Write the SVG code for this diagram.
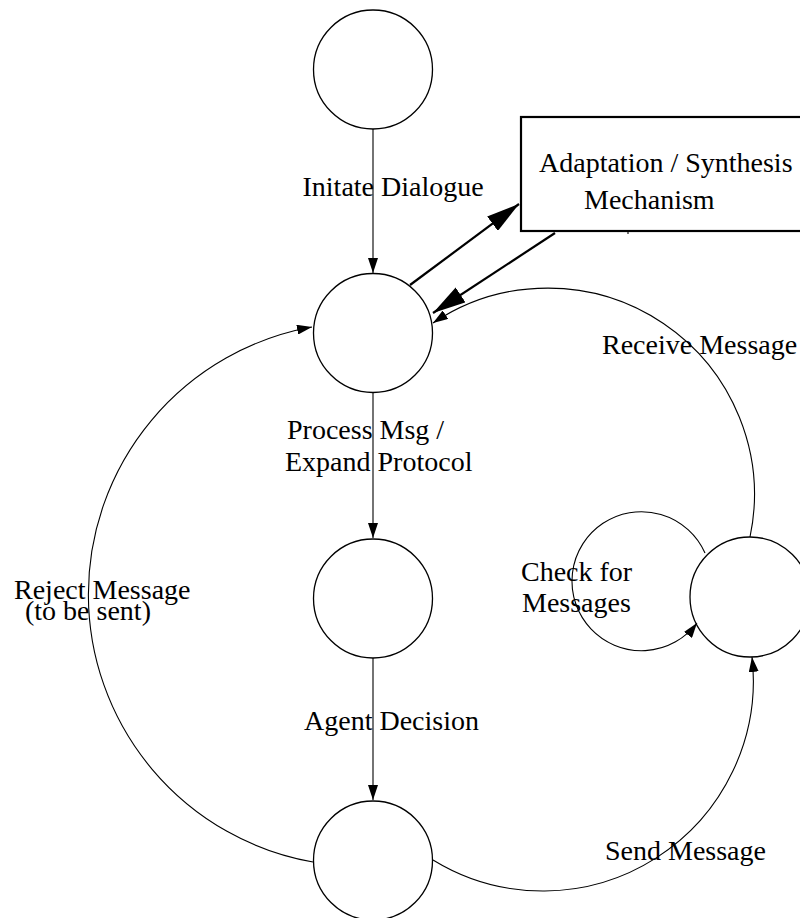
<svg xmlns="http://www.w3.org/2000/svg" width="800" height="918" viewBox="0 0 800 918">
  <style>
    .state { fill: #ffffff; stroke: #000000; stroke-width: 1.3; }
    .edge { fill: none; stroke: #000000; stroke-width: 1.1; }
    .bold { fill: none; stroke: #000000; stroke-width: 2.2; }
    .box { fill: #ffffff; stroke: #000000; stroke-width: 2.2; }
    text { font-family: "Liberation Serif", "Times New Roman", serif; font-size: 28px; fill: #000000; }
  </style>
  <defs>
    <marker id="arrow" markerUnits="userSpaceOnUse" markerWidth="16" markerHeight="10" refX="15" refY="5" orient="auto" viewBox="0 0 16 10">
      <path d="M0,0 L15,5 L0,10 z" fill="#000000"/>
    </marker>
    <marker id="bigArrow" markerUnits="userSpaceOnUse" markerWidth="34" markerHeight="18" refX="33" refY="9" orient="auto" viewBox="0 0 34 18">
      <path d="M0,0 L33,9 L0,18 z" fill="#000000"/>
    </marker>
  </defs>

  <!-- states -->
  <g id="start">
    <circle class="state" cx="373" cy="69.5" r="59.5"/>
  </g>
  <g id="dialogue">
    <circle class="state" cx="373" cy="333" r="59.5"/>
  </g>
  <g id="decision">
    <circle class="state" cx="373" cy="598.5" r="59.5"/>
  </g>
  <g id="outcome">
    <circle class="state" cx="373" cy="860.5" r="59.5"/>
  </g>
  <g id="waiting">
    <circle class="state" cx="750" cy="597" r="60"/>
  </g>
  <g id="mechanism">
    <rect class="box" x="521" y="117" width="300" height="114"/>
    <text x="539" y="172">Adaptation / Synthesis</text>
    <text x="584" y="209">Mechanism</text>
    <line class="edge" x1="628" y1="231" x2="628" y2="234"/>
  </g>

  <!-- transitions -->
  <g id="connectors">
    <line class="edge" x1="373" y1="129" x2="373" y2="273" marker-end="url(#arrow)"/>
    <line class="edge" x1="373" y1="392.5" x2="373" y2="538" marker-end="url(#arrow)"/>
    <line class="edge" x1="373" y1="658" x2="373" y2="800" marker-end="url(#arrow)"/>

    <line class="bold" x1="410" y1="285" x2="519" y2="204" marker-end="url(#bigArrow)"/>
    <line class="bold" x1="555" y1="233" x2="433" y2="313" marker-end="url(#bigArrow)"/>

    <!-- reject: outcome back to dialogue around the left -->
    <path class="edge" d="M313,862 A271.7,271.7 0 0 1 312,327" marker-end="url(#arrow)"/>
    <!-- send: outcome to waiting -->
    <path class="edge" d="M433,860 A210.4,210.4 0 0 0 752,657" marker-end="url(#arrow)"/>
    <!-- receive: waiting back to dialogue -->
    <path class="edge" d="M750,537 A206.5,206.5 0 0 0 433,323" marker-end="url(#arrow)"/>
    <!-- self loop on waiting -->
    <path class="edge" d="M705,553 A69.5,69.5 0 1 0 697,623" marker-end="url(#arrow)"/>
  </g>

  <!-- transition labels -->
  <g id="labels">
    <text x="302.5" y="196">Initate Dialogue</text>
    <text x="287" y="439">Process Msg /</text>
    <text x="285" y="471">Expand Protocol</text>
    <text x="304" y="730">Agent Decision</text>
    <text x="14" y="599">Reject Message</text>
    <text x="25" y="620">(to be sent)</text>
    <text x="521" y="581">Check for</text>
    <text x="522" y="612">Messages</text>
    <text x="602" y="354">Receive Message</text>
    <text x="605" y="860">Send Message</text>
  </g>
</svg>
